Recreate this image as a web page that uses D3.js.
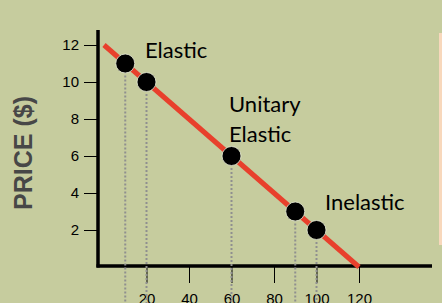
<!DOCTYPE html>
<html>
<head>
<meta charset="utf-8">
<script src="https://cdn.jsdelivr.net/npm/d3@7"></script>
<style>
  body { margin: 0; background: #c6cc9e; }
  svg { display: block; }
  .axis text { font-family: "Liberation Sans", Arial, sans-serif; font-size: 15px; fill: #000; }
  .axis line { stroke: #000; stroke-width: 1; }
  .note { font-family: Lato, "Open Sans", sans-serif; font-size: 22px; fill: #000; }
</style>
</head>
<body>
<svg width="442" height="303"></svg>
<script>
// demand curve end points (quantity, price)
var curveQ = [0, 120];
var curveP = [12, 0];
// marked points on the curve
var pointQ = [10, 20, 60, 90, 100];
var pointP = [11, 10, 6, 3, 2];
// tick labels
var xTicks = [20, 40, 60, 80, 100, 120];
var yTicks = [2, 4, 6, 8, 10, 12];

var width = 442, height = 303;

var x = d3.scaleLinear().domain([0, 120]).range([104, 359]);
var y = d3.scaleLinear().domain([0, 12]).range([267, 45]);

var svg = d3.select('svg');

svg.append('rect')
  .attr('width', width).attr('height', height)
  .attr('fill', '#c6cc9e');

// peach panel on the right
svg.append('rect')
  .attr('x', 439).attr('y', 33)
  .attr('width', 10).attr('height', 212)
  .attr('fill', '#f8d8bc');

// y axis
var yAxis = d3.axisLeft(y).tickValues(yTicks).tickSize(14).tickPadding(5);
var gy = svg.append('g')
  .attr('class', 'axis')
  .attr('transform', 'translate(98,0)')
  .call(yAxis);
gy.select('.domain').remove();

// x axis
var xAxis = d3.axisBottom(x).tickValues(xTicks).tickSize(17).tickPadding(10);
var gx = svg.append('g')
  .attr('class', 'axis')
  .attr('transform', 'translate(0,266)')
  .call(xAxis);
gx.select('.domain').remove();

// thick axis lines
svg.append('line')
  .attr('x1', 98).attr('x2', 98)
  .attr('y1', 30).attr('y2', 267.5)
  .attr('stroke', '#000').attr('stroke-width', 3.5);
svg.append('line')
  .attr('x1', 96.5).attr('x2', 432)
  .attr('y1', 266).attr('y2', 266)
  .attr('stroke', '#000').attr('stroke-width', 3.5);

// axis title
svg.append('text')
  .attr('transform', 'translate(32,153) rotate(-90)')
  .attr('text-anchor', 'middle')
  .style('font-family', '"Liberation Sans", Arial, sans-serif')
  .style('font-size', '25px')
  .style('font-weight', 'bold')
  .attr('fill', '#474747')
  .text('PRICE ($)');

var points = pointQ.map(function(q, i) { return { q: q, p: pointP[i] }; });

// dotted drop lines
svg.selectAll('.drop')
  .data(points)
  .enter()
  .append('line')
  .attr('class', 'drop')
  .attr('x1', function(d) { return x(d.q); })
  .attr('x2', function(d) { return x(d.q); })
  .attr('y1', function(d) { return y(d.p); })
  .attr('y2', height)
  .attr('stroke', '#8f8f8f')
  .attr('stroke-width', 2)
  .attr('stroke-dasharray', '2,2');

// demand line
var line = d3.line()
  .x(function(d) { return x(d[0]); })
  .y(function(d) { return y(d[1]); });
svg.append('path')
  .datum(curveQ.map(function(q, i) { return [q, curveP[i]]; }))
  .attr('d', line)
  .attr('fill', 'none')
  .attr('stroke', '#e8402c')
  .attr('stroke-width', 5);

// points
svg.selectAll('.dot')
  .data(points)
  .enter()
  .append('circle')
  .attr('class', 'dot')
  .attr('cx', function(d) { return x(d.q); })
  .attr('cy', function(d) { return y(d.p); })
  .attr('r', 9.5)
  .attr('fill', '#000')
  .attr('stroke', '#e8ecd8')
  .attr('stroke-width', 0.8);

// annotations
svg.append('text').attr('class', 'note').attr('x', 145).attr('y', 58).text('Elastic');
svg.append('text').attr('class', 'note').attr('x', 229).attr('y', 112).text('Unitary');
svg.append('text').attr('class', 'note').attr('x', 229).attr('y', 142).text('Elastic');
svg.append('text').attr('class', 'note').attr('x', 325).attr('y', 210).text('Inelastic');
</script>
</body>
</html>
